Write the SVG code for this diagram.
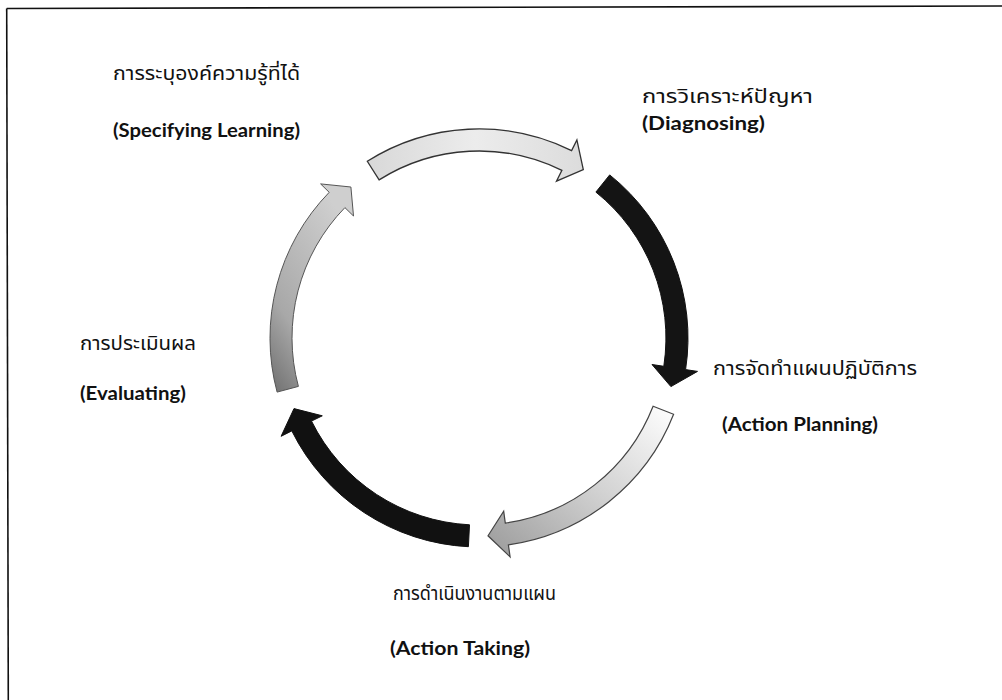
<svg xmlns="http://www.w3.org/2000/svg" width="1002" height="700" viewBox="0 0 1002 700">
<defs>
<style>
.th{font-family:"Noto Sans Thai","Noto Sans","DejaVu Sans",sans-serif;font-size:19px;fill:#111}
.en{font-family:Lato,"Liberation Sans",sans-serif;font-weight:bold;font-size:18px;fill:#111}
.frame{stroke:#111;stroke-width:1.6;fill:none}
</style>
<linearGradient id="gTop" x1="0" y1="0" x2="1" y2="0">
<stop offset="0" stop-color="#d8d8d8"/><stop offset="0.5" stop-color="#ececec"/><stop offset="1" stop-color="#dcdcdc"/>
</linearGradient>
<linearGradient id="gLR" x1="1" y1="0" x2="0" y2="1">
<stop offset="0" stop-color="#ffffff"/><stop offset="0.5" stop-color="#d0d0d0"/><stop offset="1" stop-color="#9a9a9a"/>
</linearGradient>
<linearGradient id="gLeft" x1="0" y1="1" x2="0.6" y2="0">
<stop offset="0" stop-color="#6e6e6e"/><stop offset="0.35" stop-color="#a8a8a8"/><stop offset="1" stop-color="#cfcfcf"/>
</linearGradient>
</defs>
<g id="frame">
<line class="frame" x1="6.7" y1="8.5" x2="1002" y2="6"/>
<line class="frame" x1="6.7" y1="8.5" x2="8.3" y2="700"/>
</g>
<g id="connectors">
<path id="arrow-top" d="M 367.3 161.3 A 209 209 0 0 1 571.6 150.6 L 576.9 139.9 L 583.3 169.7 L 556.5 181.1 L 561.9 170.4 A 187 187 0 0 0 379.1 179.9 Z" fill="url(#gTop)" stroke="#333" stroke-width="1.3"/>
<path id="arrow-right" d="M 609.7 174.9 A 209 209 0 0 1 685.6 369.6 L 697.5 371.4 L 670.9 386.6 L 652.0 364.5 L 663.8 366.3 A 187 187 0 0 0 595.9 192.1 Z" fill="#141414" stroke="#111" stroke-width="1"/>
<path id="arrow-lowright" d="M 673.6 414.3 A 209 209 0 0 1 508.4 544.9 L 510.1 556.8 L 488.0 535.8 L 503.7 511.3 L 505.3 523.1 A 187 187 0 0 0 653.1 406.2 Z" fill="url(#gLR)" stroke="#444" stroke-width="1.2"/>
<path id="arrow-bottomleft" d="M 468.4 546.7 A 209 209 0 0 1 291.8 430.9 L 281.1 436.3 L 294.0 408.6 L 322.3 415.8 L 311.5 421.1 A 187 187 0 0 0 469.5 524.8 Z" fill="#111" stroke="#111" stroke-width="1"/>
<path id="arrow-left" d="M 277.1 392.1 A 209 209 0 0 1 329.2 192.3 L 320.6 183.9 L 350.9 187.0 L 353.5 216.0 L 344.9 207.6 A 187 187 0 0 0 298.4 386.4 Z" fill="url(#gLeft)" stroke="#555" stroke-width="1"/>
</g>
<g id="node-specifying">
<text class="th" x="113" y="80" textLength="187" lengthAdjust="spacingAndGlyphs">การระบุองค์ความรู้ที่ได้</text>
<text class="en" x="113" y="137" textLength="187" lengthAdjust="spacingAndGlyphs">(Specifying Learning)</text>
</g>
<g id="node-diagnosing">
<text class="th" x="642" y="103" textLength="171" lengthAdjust="spacingAndGlyphs">การวิเคราะห์ปัญหา</text>
<text class="en" x="642" y="130" textLength="123" lengthAdjust="spacingAndGlyphs">(Diagnosing)</text>
</g>
<g id="node-planning">
<text class="th" x="713" y="375" textLength="204" lengthAdjust="spacingAndGlyphs">การจัดทำแผนปฏิบัติการ</text>
<text class="en" x="722" y="431" textLength="156" lengthAdjust="spacingAndGlyphs">(Action Planning)</text>
</g>
<g id="node-taking">
<text class="th" x="393" y="600" textLength="163" lengthAdjust="spacingAndGlyphs">การดำเนินงานตามแผน</text>
<text class="en" x="390" y="655" textLength="140" lengthAdjust="spacingAndGlyphs">(Action Taking)</text>
</g>
<g id="node-evaluating">
<text class="th" x="80" y="350" textLength="116" lengthAdjust="spacingAndGlyphs">การประเมินผล</text>
<text class="en" x="80" y="400" textLength="106" lengthAdjust="spacingAndGlyphs">(Evaluating)</text>
</g>
</svg>
